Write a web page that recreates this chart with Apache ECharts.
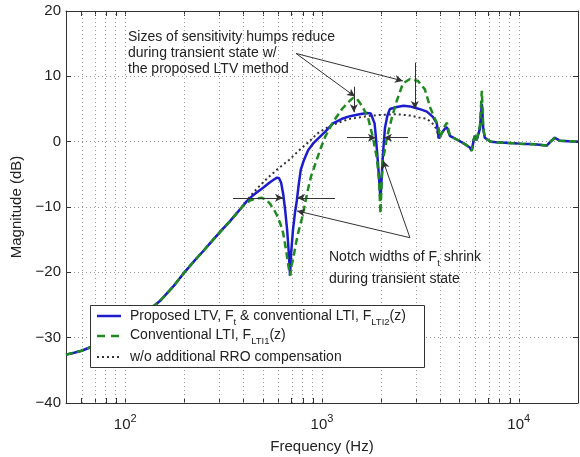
<!DOCTYPE html>
<html>
<head>
<meta charset="utf-8">
<script src="https://cdn.jsdelivr.net/npm/echarts@6/dist/echarts.min.js"></script>
<style>
html, body { margin: 0; padding: 0; background: #fff; }
#chart { width: 580px; height: 457px; }
</style>
</head>
<body>
<div id="chart"></div>
<script>
// Low-frequency part shared by all three sensitivity responses (Hz, dB)
const baseHz = [50, 55, 60, 66, 73, 80, 90, 100, 115, 130, 150, 175, 200, 225, 250, 280, 310, 340, 370, 392];
const baseDb = [-32.6, -32.3, -32.0, -31.5, -31.0, -30.4, -29.6, -28.7, -27.3, -25.9, -24.4, -22.2, -20.0, -18.2, -16.7, -15.0, -13.5, -12.2, -10.9, -10.0];

// Proposed LTV, F_t & conventional LTI, F_LTI2(z)
const ltvHz = [410, 431, 460, 500, 540, 570, 591, 605, 620, 635, 650, 665, 678, 688, 697, 712, 728, 745, 762, 780, 810, 850, 900, 943, 1036, 1137, 1264, 1388, 1550, 1692, 1770, 1810, 1850, 1880, 1910, 1950, 1982, 2010, 2040, 2089, 2150, 2214, 2400, 2600, 2800, 2965, 3200, 3412, 3658, 3834, 3920, 4000, 4211, 4314, 4467, 5000, 5400, 5641, 5772, 5900, 5979, 6100, 6195, 6350, 6490, 6600, 6721, 7200, 7727, 10117, 12000, 13867, 14500, 15230, 16147, 18000, 20000];
const ltvDb = [-9.3, -8.6, -7.9, -7.1, -6.3, -5.8, -5.5, -5.6, -6.3, -8.0, -10.5, -13.5, -17.0, -20.5, -17.0, -13.5, -11.0, -9.0, -6.5, -4.3, -2.8, -1.3, -0.3, 0.3, 1.5, 2.8, 3.5, 3.9, 4.2, 4.4, 4.3, 4.0, 2.8, 0.6, -2.0, -5.5, -9.0, -5.5, -2.0, 2.1, 4.0, 5.0, 5.3, 5.5, 5.4, 5.2, 4.9, 4.6, 3.8, 2.8, 0.5, 1.0, 2.0, 2.2, 0.9, 0.1, -0.5, -0.9, -1.4, 0.3, 0.9, 0.2, 0.15, 2.0, 5.8, 2.0, 0.6, 0.0, -0.1, -0.3, -0.4, -0.6, 0.0, 0.6, 0.15, 0.05, 0.0];

// Conventional LTI, F_LTI1(z)
const lti1Hz = [410, 431, 460, 496, 520, 544, 570, 591, 615, 635, 660, 675, 688, 700, 715, 735, 756, 790, 820, 850, 880, 920, 977, 1036, 1137, 1264, 1388, 1440, 1500, 1596, 1713, 1816, 1900, 1950, 1982, 2010, 2040, 2138, 2266, 2402, 2577, 2797, 3071, 3333, 3550, 3750, 3900, 3975, 4211, 4314, 4467, 5000, 5400, 5641, 5772, 5900, 5979, 6100, 6195, 6350, 6490, 6600, 6721, 7200, 7727, 10117, 12000, 13867, 14500, 15230, 16147, 18000, 20000];
const lti1Db = [-9.5, -9.0, -8.7, -8.6, -8.9, -9.5, -10.4, -11.3, -12.6, -14.0, -17.0, -19.0, -20.5, -19.0, -17.8, -15.8, -14.0, -11.8, -9.5, -7.2, -5.3, -3.6, -1.3, 0.7, 3.0, 5.0, 6.3, 6.7, 6.6, 5.5, 3.7, 0.6, -2.5, -6.0, -11.0, -6.0, -2.9, 0.6, 3.7, 6.3, 8.9, 9.6, 9.3, 8.0, 5.2, 3.5, 2.4, 0.6, 2.4, 2.9, 0.9, 0.1, -0.5, -0.9, -1.4, 0.3, 0.9, 0.2, 0.15, 2.5, 7.8, 2.0, 0.6, 0.0, -0.1, -0.3, -0.4, -0.6, 0.0, 0.6, 0.15, 0.05, 0.0];

// w/o additional RRO compensation
const noRroHz = [431, 470, 527, 600, 680, 773, 860, 943, 1036, 1137, 1264, 1388, 1692, 2000, 2402, 2800, 3100, 3412, 3700, 3834, 3920, 4000, 4211, 4314, 4467, 5000, 5400, 5641, 5772, 5900, 5979, 6100, 6195, 6350, 6490, 6600, 6721, 7200, 7727, 10117, 12000, 13867, 14500, 15230, 16147, 18000, 20000];
const noRroDb = [-8.4, -7.1, -5.6, -4.1, -2.8, -1.2, 0.0, 1.2, 2.0, 2.6, 3.1, 3.5, 3.9, 4.1, 4.2, 4.0, 3.7, 3.5, 2.6, 1.8, 0.5, 1.0, 2.0, 2.2, 0.9, 0.1, -0.5, -0.9, -1.4, 0.3, 0.9, 0.2, 0.15, 2.0, 5.8, 2.0, 0.6, 0.0, -0.1, -0.3, -0.4, -0.6, 0.0, 0.6, 0.15, 0.05, 0.0];

// Axis ticks
const decadeExps = [2, 3, 4];          // labels 10^2, 10^3, 10^4
const magTicks = [-40, -30, -20, -10, 0, 10, 20];
const freqRange = [50, 20000];

const FONT = '"Liberation Sans", Arial, Helvetica, sans-serif';
const INK = '#222';
const FRAME = '#333';
const BLUE = '#1c1ccc';
const GREEN = '#1f8a1f';
const DOT = '#333';

const L = Math.log10;
const toPts = (hz, db) => hz.map((f, i) => [L(f), db[i]]);

// log-spaced tick/grid positions (1..9 per decade) inside the frequency range
const gridLog = [];
for (let d = 10; d <= 10000; d *= 10) {
  for (let k = 1; k <= 9; k++) {
    const f = k * d;
    if (f > freqRange[0] && f < freqRange[1]) gridLog.push(L(f));
  }
}

const xMin = L(freqRange[0]), xMax = L(freqRange[1]);
const yMin = magTicks[0], yMax = magTicks[magTicks.length - 1];

// arrow helper in (Hz, dB)
const arrow = (f1, d1, f2, d2) => [
  { coord: [L(f1), d1], symbol: 'none' },
  { coord: [L(f2), d2], symbol: 'arrow' }
];

const annotationLines = [
  arrow(738, 13.5, 1472, 6.9),
  arrow(738, 13.5, 2577, 9.3),
  arrow(1452, 8.4, 1452, 4.5),
  arrow(2965, 12.1, 2965, 5.0),
  arrow(353, -8.6, 634, -8.6),
  arrow(1164, -8.6, 747, -8.6),
  arrow(1340, 0.6, 1880, 0.6),
  arrow(2735, 0.6, 2065, 0.6),
  arrow(2798, -14.7, 747, -10.6),
  arrow(2798, -14.7, 2042, -2.9)
];

const frameAxis = {
  axisLine: { show: true, onZero: false, lineStyle: { color: FRAME, width: 1 } },
  splitLine: { show: false }
};

const chart = echarts.init(document.getElementById('chart'), null, { renderer: 'canvas' });

const txt = (x, y, text, extra) => ({
  type: 'text', x, y, z: 60,
  style: Object.assign({
    text, font: '14px ' + FONT, fill: INK, verticalAlign: 'middle', align: 'left'
  }, extra || {})
});

const richSub = {
  a: { fontSize: 14, fontFamily: FONT, color: INK, verticalAlign: 'bottom', padding: [0, 0, 4, 0] },
  s: { fontSize: 9.5, fontFamily: FONT, color: INK, verticalAlign: 'bottom' }
};

chart.setOption({
  animation: false,
  backgroundColor: '#fff',
  grid: { left: 66, right: 2, top: 11, bottom: 54, containLabel: false, outerBoundsMode: 'none' },
  xAxis: [
    Object.assign({}, frameAxis, {
      type: 'value', min: xMin, max: xMax, position: 'bottom',
      axisTick: { show: true, inside: true, length: 5, customValues: gridLog, lineStyle: { color: FRAME } },
      axisLabel: {
        customValues: decadeExps,
        margin: 10,
        formatter: v => '{b|10}{e|' + Math.round(v) + '}',
        rich: {
          b: { fontSize: 15, fontFamily: FONT, color: INK, verticalAlign: 'bottom' },
          e: { fontSize: 11, fontFamily: FONT, color: INK, verticalAlign: 'bottom', padding: [0, 0, 8, 0] }
        }
      },
      name: 'Frequency (Hz)', nameLocation: 'middle', nameGap: 36,
      nameTextStyle: { fontSize: 15, fontFamily: FONT, color: INK }
    }),
    Object.assign({}, frameAxis, {
      type: 'value', min: xMin, max: xMax, position: 'top',
      axisTick: { show: true, inside: true, length: 5, customValues: gridLog, lineStyle: { color: FRAME } },
      axisLabel: { show: false }
    })
  ],
  yAxis: [
    Object.assign({}, frameAxis, {
      type: 'value', min: yMin, max: yMax, interval: 10,
      axisTick: { show: true, inside: true, length: 5, lineStyle: { color: FRAME } },
      axisLabel: {
        margin: 5, fontSize: 15, fontFamily: FONT, color: INK,
        formatter: v => String(v).replace('-', '\u2212')
      },
      splitLine: { show: true, lineStyle: { color: '#999', width: 1, type: [1, 3] } },
      name: 'Magnitude (dB)', nameLocation: 'middle', nameGap: 35,
      nameTextStyle: { fontSize: 15, fontFamily: FONT, color: INK }
    }),
    Object.assign({}, frameAxis, {
      type: 'value', min: yMin, max: yMax, interval: 10, position: 'right',
      axisTick: { show: true, inside: true, length: 5, lineStyle: { color: FRAME } },
      axisLabel: { show: false }
    })
  ],
  series: [
    {
      name: 'w/o additional RRO compensation',
      type: 'line', silent: true, showSymbol: false, z: 2,
      data: toPts(baseHz, baseDb).concat(toPts(noRroHz, noRroDb)),
      lineStyle: { color: DOT, width: 2, type: [2, 3] },
      markLine: {
        silent: true, z: 1, symbol: 'none', animation: false,
        label: { show: false },
        lineStyle: { color: '#999', width: 1, type: [1, 3] },
        data: gridLog.map(v => ({ xAxis: v }))
      }
    },
    {
      name: 'Proposed LTV',
      type: 'line', silent: true, showSymbol: false, z: 3,
      data: toPts(baseHz, baseDb).concat(toPts(ltvHz, ltvDb)),
      lineStyle: { color: BLUE, width: 2.5 }
    },
    {
      name: 'Conventional LTI',
      type: 'line', silent: true, showSymbol: false, z: 4,
      data: toPts(baseHz, baseDb).concat(toPts(lti1Hz, lti1Db)),
      lineStyle: { color: GREEN, width: 2.5, type: [7, 4] },
      markLine: {
        silent: true, z: 10, animation: false,
        symbolSize: [6, 8],
        label: { show: false },
        lineStyle: { color: '#333', width: 1, type: 'solid' },
        itemStyle: { color: '#222' },
        data: annotationLines
      }
    }
  ],
  graphic: [
    // annotation texts
    txt(128, 37, 'Sizes of sensitivity humps reduce'),
    txt(128, 53, 'during transient state w/'),
    txt(128, 69, 'the proposed LTV method'),
    txt(329, 259, '{a|Notch widths of F}{s|t}{a| shrink}', { rich: richSub }),
    txt(329, 279, 'during transient state'),
    // legend
    { type: 'rect', z: 50, shape: { x: 90.5, y: 305.5, width: 334, height: 62 },
      style: { fill: '#fff', stroke: '#333', lineWidth: 1 } },
    { type: 'line', z: 55, shape: { x1: 97, y1: 316, x2: 121, y2: 316 },
      style: { stroke: BLUE, lineWidth: 2.5 } },
    { type: 'line', z: 55, shape: { x1: 97, y1: 336, x2: 121, y2: 336 },
      style: { stroke: GREEN, lineWidth: 2.5, lineDash: [8, 6] } },
    { type: 'line', z: 55, shape: { x1: 97, y1: 357, x2: 121, y2: 357 },
      style: { stroke: DOT, lineWidth: 2, lineDash: [2, 3] } },
    txt(130, 318, '{a|Proposed LTV, F}{s|t}{a| & conventional LTI, F}{s|LTI2}{a|(z)}', { rich: richSub }),
    txt(130, 337, '{a|Conventional LTI, F}{s|LTI1}{a|(z)}', { rich: richSub }),
    txt(130, 357, 'w/o additional RRO compensation')
  ]
});
</script>
</body>
</html>
